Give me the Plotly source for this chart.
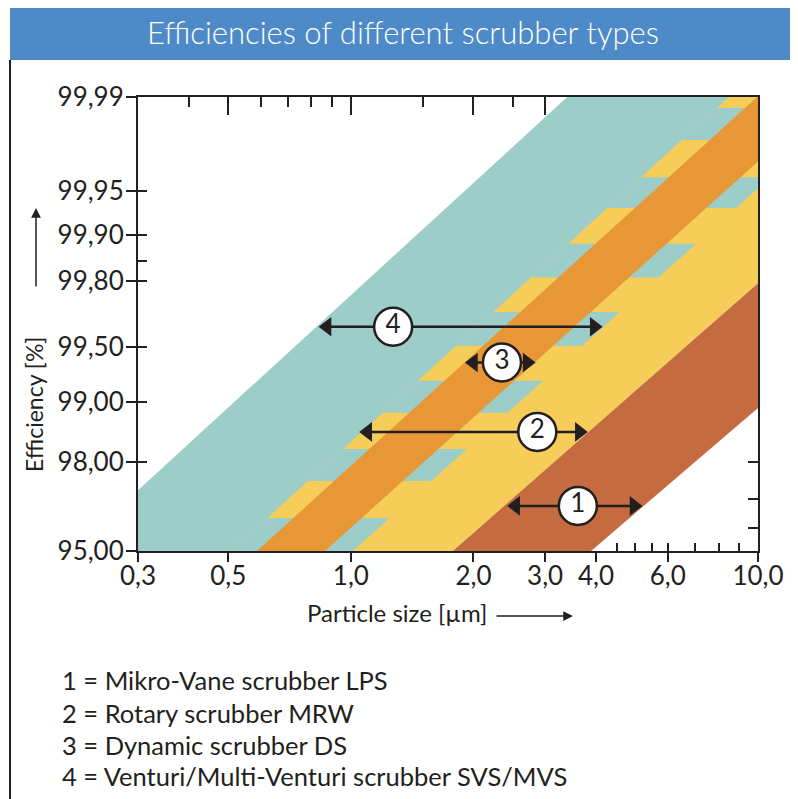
import math
from statistics import NormalDist
import plotly.graph_objects as go

ND = NormalDist()

# ---------------- data ----------------
TITLE = "Efficiencies of different scrubber types"
x_tick_vals = [0.3, 0.5, 1.0, 2.0, 3.0, 4.0, 6.0, 10.0]
x_tick_text = ["0,3", "0,5", "1,0", "2,0", "3,0", "4,0", "6,0", "10,0"]
y_tick_vals = [95.0, 98.0, 99.0, 99.5, 99.8, 99.9, 99.95, 99.99]
y_tick_text = ["95,00", "98,00", "99,00", "99,50", "99,80", "99,90", "99,95", "99,99"]
top_major_ticks = [0.5, 1.0, 2.0, 3.0]
top_minor_ticks = [0.4, 0.6, 0.7, 0.8, 0.9, 1.5, 2.5]
bottom_inner_ticks = [4.5, 5.0, 5.5, 6.0, 7.0, 8.0, 9.0]
left_inner_ticks = [98.0, 99.0, 99.5, 99.8, 99.85, 99.9, 99.95, 99.99]
right_inner_ticks = [96.0, 97.0, 98.0]

eff_bottom, eff_top = 95.0, 99.99
x_min, x_max = 0.3, 10.0

# band edges: particle size [µm] where each edge meets 95,00 % and 99,99 %
venturi_at_95 = [0.206, 1.012]
venturi_at_9999 = [3.40, 17.8]
rotary_at_95 = [0.508, 1.78]
rotary_at_9999 = [8.49, 33.2]
dynamic_at_95 = [0.588, 0.864]
dynamic_at_9999 = [9.95, 15.0]
vane_at_95 = [1.78, 3.89]
vane_at_9999 = [33.2, 77.9]

# efficiency rows in which the Venturi band (4) shows through the Rotary band (2)
overlap_low = [95.00, 97.53, 98.86, 99.51, 99.81, 99.934, 99.9786]
overlap_high = [96.37, 98.26, 99.23, 99.69, 99.885, 99.960, 99.9878]

# range arrows
arrow_labels = ["1", "2", "3", "4"]
arrow_eff = [96.79, 98.57, 99.39, 99.62]
arrow_from = [2.54, 1.10, 2.00, 0.874]
arrow_to = [4.96, 3.64, 2.71, 3.96]
label_size = [3.61, 2.87, 2.35, 1.27]

legend_lines = [
    "1 = Mikro-Vane scrubber LPS",
    "2 = Rotary scrubber MRW",
    "3 = Dynamic scrubber DS",
    "4 = Venturi/Multi-Venturi scrubber SVS/MVS",
]

# ---------------- style ----------------
TEAL = "#9CCDC8"
YELLOW = "#F5CD58"
ORANGE = "#E89737"
BROWN = "#C46B40"
BLUE = "#4E8AC8"
INK = "#231F20"
FONT = "Lato, 'Open Sans', sans-serif"

OFF = 8                      # page body margin
W, H = 798 - OFF, 799 - OFF  # figure size
L, R, T, B = 138, 758, 97, 551   # plot area in page pixels


def px2x(px):
    return (px - L) / (R - L)


def py2y(py):
    return (B - py) / (B - T)


def z(e):
    return ND.inv_cdf(e / 100.0)


Z0, Z1 = z(eff_bottom), z(eff_top)


def along(a, b, e):
    t = (z(e) - Z0) / (Z1 - Z0)
    return 10 ** (math.log10(a) + t * (math.log10(b) - math.log10(a)))


fig = go.Figure()


def band(at95, at9999, color):
    fig.add_trace(go.Scatter(
        x=[at95[0], at95[1], at9999[1], at9999[0], at95[0]],
        y=[Z0, Z0, Z1, Z1, Z0],
        mode="lines", fill="toself", fillcolor=color,
        line=dict(width=0, color=color), hoverinfo="skip", showlegend=False))


band(venturi_at_95, venturi_at_9999, TEAL)
band(rotary_at_95, rotary_at_9999, YELLOW)
for lo, hi in zip(overlap_low, overlap_high):
    xs = [along(rotary_at_95[0], rotary_at_9999[0], lo),
          along(venturi_at_95[1], venturi_at_9999[1], lo),
          along(venturi_at_95[1], venturi_at_9999[1], hi),
          along(rotary_at_95[0], rotary_at_9999[0], hi)]
    fig.add_trace(go.Scatter(
        x=xs + [xs[0]], y=[z(lo), z(lo), z(hi), z(hi), z(lo)],
        mode="lines", fill="toself", fillcolor=TEAL,
        line=dict(width=0, color=TEAL), hoverinfo="skip", showlegend=False))
band(dynamic_at_95, dynamic_at_9999, ORANGE)
band(vane_at_95, vane_at_9999, BROWN)

for lab, e, a, b, c in zip(arrow_labels, arrow_eff, arrow_from, arrow_to, label_size):
    fig.add_trace(go.Scatter(x=[a, b], y=[z(e), z(e)], mode="lines",
                             line=dict(color=INK, width=2.5),
                             hoverinfo="skip", showlegend=False))
    fig.add_trace(go.Scatter(x=[a, b], y=[z(e), z(e)], mode="markers",
                             marker=dict(symbol=["triangle-left", "triangle-right"],
                                         size=17, color=INK, line=dict(width=0)),
                             hoverinfo="skip", showlegend=False))
    fig.add_trace(go.Scatter(x=[c], y=[z(e)], mode="markers+text", text=[lab],
                             textposition="middle center",
                             textfont=dict(size=26, color=INK, family=FONT),
                             marker=dict(symbol="circle", size=38, color="white",
                                         line=dict(color=INK, width=2.5)),
                             hoverinfo="skip", showlegend=False))

# dummy traces for the overlay axes carrying the inner ticks
fig.add_trace(go.Scatter(x=[None], y=[None], xaxis="x2", yaxis="y2", showlegend=False))
fig.add_trace(go.Scatter(x=[None], y=[None], xaxis="x3", yaxis="y3", showlegend=False))

xr = [math.log10(x_min), math.log10(x_max)]
yr = [Z0, Z1]
common = dict(showgrid=False, zeroline=False, fixedrange=True)

fig.update_layout(
    width=W, height=H, autosize=False,
    margin=dict(l=L - OFF, r=W - (R - OFF), t=T - OFF, b=H - (B - OFF), pad=0),
    paper_bgcolor="white", plot_bgcolor="white", showlegend=False,
    font=dict(family=FONT, color=INK),
    xaxis=dict(type="log", range=xr, tickmode="array", tickvals=x_tick_vals,
               ticktext=x_tick_text, ticks="outside", ticklen=9, tickwidth=1.5,
               tickcolor=INK, showline=True, linewidth=2, linecolor=INK, mirror=True,
               ticklabelstandoff=-8,
               tickfont=dict(size=26, color=INK), **common),
    yaxis=dict(range=yr, tickmode="array", tickvals=[z(v) for v in y_tick_vals],
               ticktext=y_tick_text, ticks="outside", ticklen=10, tickwidth=1.5,
               tickcolor=INK, showline=True, linewidth=2, linecolor=INK, mirror=True,
               ticklabelstandoff=-3,
               tickfont=dict(size=26, color=INK), **common),
    xaxis2=dict(type="log", range=xr, overlaying="x", side="top", anchor="y2",
                tickmode="array", tickvals=top_major_ticks, ticks="inside", ticklen=18,
                tickwidth=1.5, tickcolor=INK, showticklabels=False, showline=False,
                minor=dict(tickmode="array", tickvals=top_minor_ticks, ticks="inside",
                           ticklen=10, tickwidth=1.5, tickcolor=INK), **common),
    yaxis2=dict(range=yr, overlaying="y", side="right", anchor="x2",
                tickmode="array", tickvals=[z(v) for v in right_inner_ticks],
                ticks="inside", ticklen=10, tickwidth=1.5, tickcolor=INK,
                showticklabels=False, showline=False, **common),
    xaxis3=dict(type="log", range=xr, overlaying="x", side="bottom", anchor="y3",
                tickmode="array", tickvals=bottom_inner_ticks, ticks="inside", ticklen=8,
                tickwidth=1.5, tickcolor=INK, showticklabels=False, showline=False, **common),
    yaxis3=dict(range=yr, overlaying="y", side="left", anchor="x3",
                tickmode="array", tickvals=[z(v) for v in left_inner_ticks],
                ticks="inside", ticklen=9, tickwidth=1.5, tickcolor=INK,
                showticklabels=False, showline=False, **common),
)

shapes = [
    dict(type="rect", xref="paper", yref="paper", x0=px2x(10), x1=px2x(798),
         y0=py2y(60), y1=py2y(8), fillcolor=BLUE, line=dict(width=0), layer="above"),
    dict(type="line", xref="paper", yref="paper", x0=px2x(10), x1=px2x(10),
         y0=py2y(60), y1=py2y(800), line=dict(color=INK, width=2)),
    dict(type="line", xref="paper", yref="paper", x0=px2x(796), x1=px2x(796),
         y0=py2y(60), y1=py2y(800), line=dict(color=INK, width=2)),
]
fig.update_layout(shapes=shapes)

ann = [
    dict(text=TITLE, x=px2x(403), y=py2y(32), xref="paper", yref="paper",
         showarrow=False, font=dict(size=31, color="white", weight=300),
         xanchor="center", yanchor="middle"),
    dict(text="Efficiency [%]", x=px2x(34), y=py2y(404), xref="paper", yref="paper",
         showarrow=False, textangle=-90, font=dict(size=23, color=INK),
         xanchor="center", yanchor="middle"),
    dict(text="", x=px2x(36), y=py2y(208), xref="paper", yref="paper",
         showarrow=True, ax=0, ay=80, arrowhead=2, arrowsize=1.3, arrowwidth=1.5,
         arrowcolor=INK),
    dict(text="Particle size [µm]", x=px2x(397), y=py2y(612), xref="paper", yref="paper",
         showarrow=False, font=dict(size=24, color=INK), xanchor="center", yanchor="middle"),
    dict(text="", x=px2x(573), y=py2y(616), xref="paper", yref="paper",
         showarrow=True, ax=-78, ay=0, arrowhead=2, arrowsize=1.3, arrowwidth=1.5,
         arrowcolor=INK),
]
for line, py in zip(legend_lines, [680, 713, 745, 776]):
    ann.append(dict(text=line, x=px2x(60), y=py2y(py), xref="paper", yref="paper",
                    showarrow=False, font=dict(size=25.5, color=INK),
                    xanchor="left", yanchor="middle"))
fig.update_layout(annotations=ann)

fig.write_html("out.html")
